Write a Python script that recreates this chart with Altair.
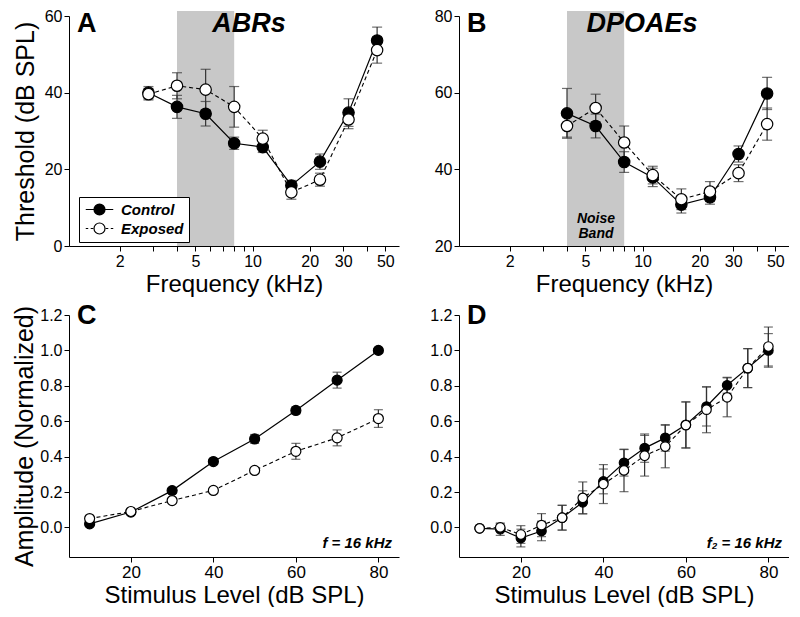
import altair as alt
import pandas as pd

FONT = "Liberation Sans"

GROUPS = ["Control", "Exposed"]

# ---------------- Panel A: ABR thresholds (dB SPL) ----------------
abr_freq = [2.83, 4.0, 5.66, 8.0, 11.31, 16.0, 22.63, 32.0, 45.25]
abr_control = [40.0, 36.3, 34.5, 26.8, 25.8, 15.8, 22.0, 34.8, 53.6]
abr_control_sem = [1.6, 3.0, 3.2, 1.6, 1.4, 1.3, 2.0, 3.6, 3.5]
abr_exposed = [39.6, 41.8, 40.8, 36.3, 28.0, 14.0, 17.3, 33.0, 51.1]
abr_exposed_sem = [1.5, 3.4, 5.3, 5.3, 2.2, 1.8, 1.7, 2.4, 3.4]

# ---------------- Panel B: DPOAE thresholds (dB SPL) ----------------
dp_freq = [4.0, 5.66, 8.0, 11.31, 16.0, 22.63, 32.0, 45.25]
dp_control = [54.6, 51.3, 41.9, 37.9, 30.8, 32.7, 44.0, 59.8]
dp_control_sem = [6.5, 3.1, 2.7, 2.4, 2.2, 1.8, 2.1, 4.2]
dp_exposed = [51.3, 56.0, 47.0, 38.5, 32.2, 34.2, 39.0, 51.8]
dp_exposed_sem = [2.9, 3.6, 4.3, 2.3, 2.7, 2.6, 2.2, 4.2]

# ---------------- Panel C: ABR amplitude growth, f = 16 kHz ----------------
abr_level = [10, 20, 30, 40, 50, 60, 70, 80]
abr_amp_control = [0.02, 0.087, 0.208, 0.372, 0.50, 0.661, 0.832, 1.0]
abr_amp_control_sem = [0.01, 0.01, 0.015, 0.015, 0.025, 0.02, 0.045, 0.01]
abr_amp_exposed = [0.05, 0.09, 0.152, 0.209, 0.322, 0.43, 0.506, 0.615]
abr_amp_exposed_sem = [0.01, 0.01, 0.012, 0.012, 0.015, 0.045, 0.045, 0.05]

# ---------------- Panel D: DPOAE amplitude growth, f2 = 16 kHz ----------------
dp_level = [10, 15, 20, 25, 30, 35, 40, 45, 50, 55, 60, 65, 70, 75, 80]
dp_amp_control = [-0.005, -0.01, -0.06, -0.02, 0.055, 0.142, 0.26, 0.365, 0.448,
                  0.506, 0.58, 0.683, 0.803, 0.90, 1.0]
dp_amp_control_sem = [0.01, 0.035, 0.05, 0.055, 0.07, 0.065, 0.07, 0.075, 0.08,
                      0.075, 0.13, 0.11, 0.045, 0.11, 0.095]
dp_amp_exposed = [-0.005, 0.0, -0.04, 0.013, 0.055, 0.167, 0.245, 0.322, 0.405,
                  0.457, 0.578, 0.665, 0.735, 0.90, 1.022]
dp_amp_exposed_sem = [0.01, 0.02, 0.05, 0.065, 0.07, 0.09, 0.11, 0.12, 0.115,
                      0.12, 0.13, 0.13, 0.11, 0.11, 0.11]

noise_band = {"lo": [4.0], "hi": [8.0]}

freq_ticks = [2, 3, 4, 5, 6, 7, 8, 9, 10, 20, 30, 40, 50]

W = 330
H_TOP = 230
H_BOT = 242


def _rings(radii):
    return "".join(
        f"M{r},0A{r},{r},0,1,1,{-r},0A{r},{r},0,1,1,{r},0Z" for r in radii)


# legend keys: line through a circle (filled = concentric rings), dashed for Exposed
PATH_C = "M-2.5,0L-1,0M1,0L2.5,0" + _rings([1, 0.8, 0.6, 0.4, 0.2, 0.1])
PATH_E = ("M-2.5,0L-2.05,0M-1.6,0L-1.15,0M1.15,0L1.6,0M2.05,0L2.5,0"
          + _rings([1]))


def series_df(x, c, ce, e, ee):
    rows = []
    for g, ys, es in (("Control", c, ce), ("Exposed", e, ee)):
        for xi, yi, ei in zip(x, ys, es):
            rows.append({"x": xi, "y": yi, "lo": yi - ei, "hi": yi + ei, "group": g})
    return pd.DataFrame(rows)


def caps_df(df):
    a = df[["x", "lo", "group"]].rename(columns={"lo": "yc"})
    b = df[["x", "hi", "group"]].rename(columns={"hi": "yc"})
    return pd.concat([a, b], ignore_index=True)


def freq_x(field):
    return alt.X(
        f"{field}:Q",
        scale=alt.Scale(type="log", domain=[1.08, 59], nice=False),
        axis=alt.Axis(
            title="Frequency (kHz)", values=freq_ticks, format="d",
            labelExpr="indexof([2,5,10,20,30,50], datum.value) >= 0 ? datum.label : ''",
            labelFont=FONT, labelFontSize=16, titleFont=FONT, titleFontSize=24,
            titlePadding=3, labelFlush=False,
        ),
    )


def level_x(field):
    return alt.X(
        f"{field}:Q",
        scale=alt.Scale(domain=[5, 85], nice=False, zero=False),
        axis=alt.Axis(
            title="Stimulus Level (dB SPL)", values=[20, 40, 60, 80], format="d",
            labelFont=FONT, labelFontSize=17, titleFont=FONT, titleFontSize=24,
            titlePadding=3, labelFlush=False,
        ),
    )


def thr_y(field, domain, values, title):
    return alt.Y(
        f"{field}:Q",
        scale=alt.Scale(domain=domain, nice=False, zero=False),
        axis=alt.Axis(
            title=title, values=values, format="d", labelFont=FONT, labelFontSize=16,
            titleFont=FONT, titleFontSize=25, titlePadding=6,
        ),
    )


def amp_y(field, title):
    return alt.Y(
        f"{field}:Q",
        scale=alt.Scale(domain=[-0.167, 1.2], nice=False, zero=False),
        axis=alt.Axis(
            title=title, values=[0, 0.2, 0.4, 0.6, 0.8, 1.0, 1.2], format=".1f",
            labelFont=FONT, labelFontSize=16, titleFont=FONT, titleFontSize=25,
            titlePadding=2,
        ),
    )


def note(text, x, y, size, align="left", style="normal", weight="bold"):
    return alt.Chart(pd.DataFrame({"t": [text]})).mark_text(
        text=text, font=FONT, fontSize=size, fontWeight=weight, fontStyle=style,
        align=align, baseline="alphabetic", color="black",
    ).encode(x=alt.value(x), y=alt.value(y))


def data_layers(df, xf, yf, pt_size, cap_w):
    caps = caps_df(df)
    err = alt.Chart(df).mark_rule(color="#333333", strokeWidth=1.2).encode(
        x=xf("x"), y=yf("lo"), y2="hi")
    cap = alt.Chart(caps).mark_tick(
        orient="horizontal", size=cap_w, thickness=1.2, color="#333333"
    ).encode(x=xf("x"), y=yf("yc"))
    base = alt.Chart(df)
    line_c = base.transform_filter("datum.group == 'Control'").mark_line(
        color="black", strokeWidth=1.2).encode(x=xf("x"), y=yf("y"))
    line_e = base.transform_filter("datum.group == 'Exposed'").mark_line(
        color="black", strokeWidth=1.1, strokeDash=[4, 3]).encode(x=xf("x"), y=yf("y"))
    pts_c = base.transform_filter("datum.group == 'Control'").mark_point(
        shape="circle", size=pt_size, fill="black", stroke="black", strokeWidth=1.2,
        opacity=1).encode(x=xf("x"), y=yf("y"))
    pts_e = base.transform_filter("datum.group == 'Exposed'").mark_point(
        shape="circle", size=pt_size, fill="white", stroke="black", strokeWidth=1.2,
        opacity=1).encode(x=xf("x"), y=yf("y"))
    return [err, cap, line_c, line_e, pts_c, pts_e]


def band_layer(xf, h):
    return alt.Chart(pd.DataFrame(noise_band)).mark_rect(color="#c8c8c8").encode(
        x=xf("lo"), x2="hi", y=alt.value(h), y2=alt.value(-5))


# ---------- Panel A ----------
dfA = series_df(abr_freq, abr_control, abr_control_sem, abr_exposed, abr_exposed_sem)
yA = lambda f: thr_y(f, [0, 60], [0, 20, 40, 60], "Threshold (dB SPL)")
legend_def = alt.Legend(
    title=None, orient="none", legendX=10, legendY=181, direction="vertical",
    symbolSize=121, symbolStrokeWidth=1.2, symbolStrokeColor="black",
    symbolFillColor="transparent", symbolOffset=8, labelOffset=14,
    labelFont=FONT, labelFontSize=15, labelFontStyle="italic", labelFontWeight="bold",
    labelColor="black", padding=5, fillColor="white", strokeColor="black", rowPadding=2,
)
# legend-only layer (draws no marks): supplies the Control / Exposed key
legend_layer = alt.Chart(dfA).transform_filter("datum.x < 0").mark_point(
    size=121, stroke="black", strokeWidth=1.2, opacity=1
).encode(
    x=freq_x("x"), y=yA("y"),
    shape=alt.Shape("group:N", scale=alt.Scale(domain=GROUPS, range=[PATH_C, PATH_E]),
                    legend=legend_def),
)
panelA = alt.layer(
    legend_layer,
    band_layer(freq_x, H_TOP),
    *data_layers(dfA, freq_x, yA, 130, 10),
    note("A", 8, 16, 27),
    note("ABRs", 180, 16, 27, align="center", style="italic"),
).properties(width=W, height=H_TOP)

# ---------- Panel B ----------
dfB = series_df(dp_freq, dp_control, dp_control_sem, dp_exposed, dp_exposed_sem)
yB = lambda f: thr_y(f, [20, 80], [20, 40, 60, 80], None)
panelB = alt.layer(
    band_layer(freq_x, H_TOP),
    *data_layers(dfB, freq_x, yB, 130, 10),
    note("Noise", 137, 207, 14, align="center", style="italic"),
    note("Band", 137, 222, 14, align="center", style="italic"),
    note("B", 8, 16, 27),
    note("DPOAEs", 183, 16, 27, align="center", style="italic"),
).properties(width=W, height=H_TOP)

# ---------- Panel C ----------
dfC = series_df(abr_level, abr_amp_control, abr_amp_control_sem,
                abr_amp_exposed, abr_amp_exposed_sem)
yC = lambda f: amp_y(f, "Amplitude (Normalized)")
panelC = alt.layer(
    *data_layers(dfC, level_x, yC, 100, 9),
    note("C", 8, 9, 27),
    note("f = 16 kHz", W - 7, H_BOT - 9, 15, align="right", style="italic"),
).properties(width=W, height=H_BOT)

# ---------- Panel D ----------
dfD = series_df(dp_level, dp_amp_control, dp_amp_control_sem,
                dp_amp_exposed, dp_amp_exposed_sem)
yD = lambda f: amp_y(f, None)
panelD = alt.layer(
    *data_layers(dfD, level_x, yD, 90, 9),
    note("D", 8, 9, 27),
    note("f\u2082 = 16 kHz", W - 7, H_BOT - 9, 15, align="right", style="italic"),
).properties(width=W, height=H_BOT)

chart = alt.concat(
    panelA, panelB, panelC, panelD, columns=2,
    spacing={"row": 69, "column": 60}, bounds="flush",
).resolve_scale(shape="independent").properties(
    padding={"left": 4, "top": 0, "right": 0, "bottom": 0}
).configure_view(stroke=None).configure_axis(
    domainColor="black", tickColor="black", labelColor="black", titleColor="black",
    grid=False, tickSize=5, domainWidth=1, tickWidth=1, labelPadding=2,
    titleFontWeight="normal",
).configure_legend(cornerRadius=0)

chart.save("out.html", embed_options={"renderer": "svg", "actions": False})
